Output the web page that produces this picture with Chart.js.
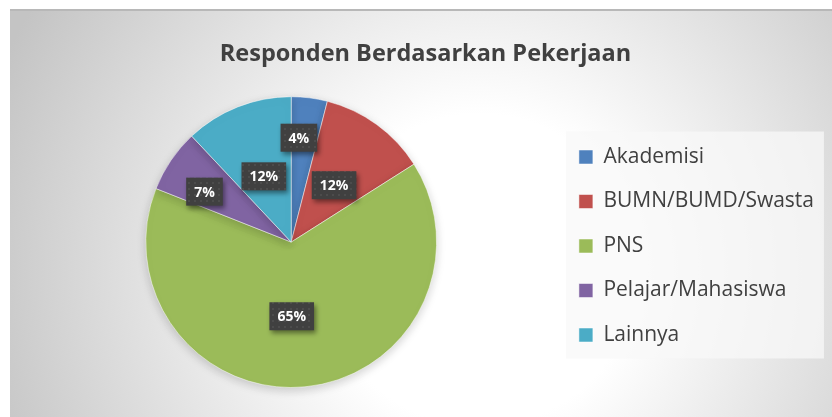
<!DOCTYPE html>
<html lang="id">
<head>
    <meta charset="UTF-8">
    <title>Responden Berdasarkan Pekerjaan</title>
    <script src="https://cdn.jsdelivr.net/npm/chart.js"></script>
    <style>
        html, body { margin: 0; padding: 0; background: #fff; }
        canvas { display: block; }
    </style>
</head>
<body>
    <canvas id="grafik" width="832" height="417"></canvas>

    <script>
        // data (persen)
        const kategori = ['Akademisi', 'BUMN/BUMD/Swasta', 'PNS', 'Pelajar/Mahasiswa', 'Lainnya'];
        const persen = [4, 12, 65, 7, 12];
        const warna = ['#4f81bd', '#c0504d', '#9bbb59', '#8064a2', '#4bacc6'];

        // posisi label ala Excel: jarak (pecahan jari-jari) dan geser sudut (derajat)
        const jarakLabel = [0.72, 0.49, 0.51, 0.69, 0.49];
        const geserSudut = [-3, 1, 5, -4, -1];

        // pola titik untuk kotak label
        function buatPola(ctx) {
            const c = document.createElement('canvas');
            c.width = 6; c.height = 6;
            const p = c.getContext('2d');
            p.fillStyle = '#404040';
            p.fillRect(0, 0, 6, 6);
            p.fillStyle = '#4c4c4c';
            p.fillRect(2, 2, 2, 2);
            return ctx.createPattern(c, 'repeat');
        }

        const latar = {
            id: 'latar',
            beforeDraw(chart) {
                const ctx = chart.ctx;
                ctx.save();
                ctx.fillStyle = '#fff';
                ctx.fillRect(0, 0, chart.width, chart.height);
                const g = ctx.createRadialGradient(480, 270, 0, 480, 270, 520);
                g.addColorStop(0, '#ffffff');
                g.addColorStop(0.3, '#ffffff');
                g.addColorStop(1, '#c4c4c4');
                ctx.fillStyle = g;
                ctx.fillRect(10, 9, chart.width - 10, chart.height - 9);
                ctx.fillStyle = '#b8b8b8';
                ctx.fillRect(10, 9, chart.width - 10, 2);

                // kotak latar legenda
                const hb = chart.legend.legendHitBoxes;
                if (hb && hb.length) {
                    const x0 = hb[0].left - 13, y0 = hb[0].top - 15;
                    const last = hb[hb.length - 1];
                    ctx.fillStyle = 'rgba(248,248,248,0.75)';
                    ctx.fillRect(x0, y0, 258, last.top + last.height + 13 - y0);
                }
                ctx.restore();
            },
            beforeDatasetsDraw(chart) {
                const ctx = chart.ctx;
                ctx.save();
                ctx.shadowColor = 'rgba(0,0,0,0.18)';
                ctx.shadowBlur = 10;
                ctx.shadowOffsetY = 3;
            },
            afterDatasetsDraw(chart) {
                chart.ctx.restore();
            }
        };

        const labelPersen = {
            id: 'labelPersen',
            afterDatasetsDraw(chart) {
                const ctx = chart.ctx;
                const meta = chart.getDatasetMeta(0);
                const pola = buatPola(ctx);
                ctx.save();
                ctx.font = 'bold 14px "Open Sans"';
                ctx.textAlign = 'center';
                ctx.textBaseline = 'middle';
                meta.data.forEach((arc, i) => {
                    const p = arc.getProps(['x', 'y', 'startAngle', 'endAngle', 'outerRadius'], true);
                    const sudut = (p.startAngle + p.endAngle) / 2 + geserSudut[i] * Math.PI / 180;
                    const r = p.outerRadius * jarakLabel[i];
                    const cx = p.x + Math.cos(sudut) * r;
                    const cy = p.y + Math.sin(sudut) * r;
                    const teks = persen[i] + '%';
                    const w = ctx.measureText(teks).width + 16;
                    const h = 28;
                    ctx.save();
                    ctx.shadowColor = 'rgba(0,0,0,0.45)';
                    ctx.shadowBlur = 5;
                    ctx.shadowOffsetX = 2;
                    ctx.shadowOffsetY = 3;
                    ctx.fillStyle = pola;
                    ctx.fillRect(cx - w / 2, cy - h / 2, w, h);
                    ctx.restore();
                    ctx.fillStyle = '#ffffff';
                    ctx.fillText(teks, cx, cy + 1);
                });
                ctx.restore();
            }
        };

        new Chart(document.getElementById('grafik'), {
            type: 'pie',
            data: {
                labels: kategori,
                datasets: [{
                    data: persen,
                    backgroundColor: warna,
                    borderColor: 'rgba(255,255,255,0.5)',
                    borderWidth: 1
                }]
            },
            options: {
                responsive: false,
                animation: false,
                layout: {
                    padding: { left: 27, right: 8, top: 0, bottom: 29 }
                },
                plugins: {
                    title: {
                        display: true,
                        text: 'Responden Berdasarkan Pekerjaan',
                        color: '#404040',
                        font: { family: 'Open Sans', size: 23.5, weight: 'bold' },
                        padding: { top: 40, bottom: 28 }
                    },
                    legend: {
                        position: 'right',
                        title: {
                            display: true,
                            text: ' ',
                            font: { size: 10 },
                            padding: { top: 92, bottom: 0 }
                        },
                        labels: {
                            boxWidth: 14,
                            boxHeight: 14,
                            padding: 23.5,
                            color: '#404040',
                            font: { family: 'Open Sans', size: 21 }
                        }
                    },
                    tooltip: { enabled: false }
                }
            },
            plugins: [latar, labelPersen]
        });
    </script>
</body>
</html>
